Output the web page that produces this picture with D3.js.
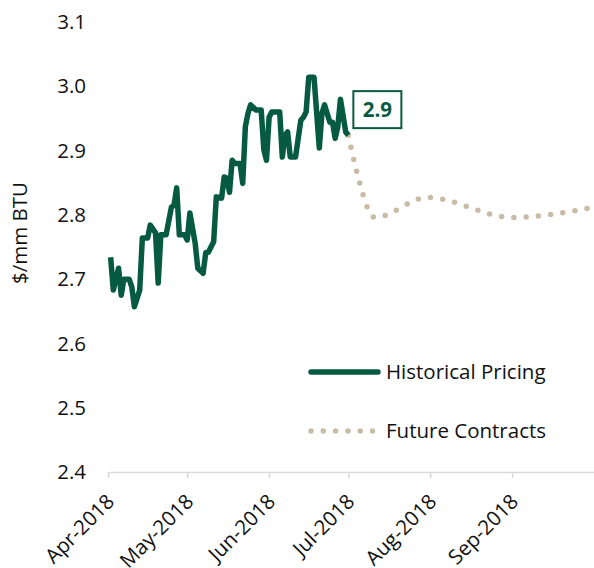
<!DOCTYPE html>
<html>
<head>
<meta charset="utf-8">
<script src="https://cdn.jsdelivr.net/npm/d3@7"></script>
<style>
  body { margin: 0; background: #fff; }
  text { font-family: "Open Sans", "Liberation Sans", sans-serif; }
</style>
</head>
<body>
<div id="chart"></div>
<script>
var width = 594, height = 568;

// historical daily prices ($/mm BTU)
var histDates = ["2018-04-02","2018-04-03","2018-04-05","2018-04-06","2018-04-07","2018-04-09","2018-04-10","2018-04-11",
  "2018-04-13","2018-04-14","2018-04-16","2018-04-17","2018-04-19","2018-04-20","2018-04-21","2018-04-23","2018-04-25",
  "2018-04-26","2018-04-27","2018-04-28","2018-04-30","2018-05-01","2018-05-02","2018-05-04","2018-05-05","2018-05-07",
  "2018-05-08","2018-05-09","2018-05-11","2018-05-12","2018-05-14","2018-05-15","2018-05-16","2018-05-17","2018-05-18",
  "2018-05-19","2018-05-21","2018-05-22","2018-05-23","2018-05-24","2018-05-25","2018-05-27","2018-05-29","2018-05-30",
  "2018-05-31","2018-06-01","2018-06-02","2018-06-05","2018-06-06","2018-06-07","2018-06-08","2018-06-09","2018-06-11",
  "2018-06-13","2018-06-14","2018-06-15","2018-06-16","2018-06-18","2018-06-20","2018-06-21","2018-06-22","2018-06-24",
  "2018-06-25","2018-06-26","2018-06-27","2018-06-28","2018-06-30","2018-07-01"];
var histValues = [2.734,2.683,2.717,2.675,2.700,2.700,2.688,2.657,
  2.683,2.764,2.764,2.784,2.772,2.694,2.769,2.769,2.812,
  2.815,2.842,2.769,2.769,2.761,2.803,2.756,2.717,2.709,
  2.741,2.742,2.758,2.828,2.826,2.859,2.857,2.835,2.885,
  2.880,2.880,2.849,2.937,2.958,2.971,2.963,2.963,2.901,
  2.885,2.952,2.960,2.960,2.890,2.924,2.929,2.890,2.890,
  2.947,2.952,2.960,3.014,3.014,2.904,2.958,2.971,2.944,
  2.944,2.919,2.937,2.980,2.929,2.924];

// future contract curve
var futDates = ["2018-07-01","2018-07-04","2018-07-11","2018-07-31","2018-09-01","2018-10-02"];
var futValues = [2.924,2.870,2.796,2.827,2.796,2.812];

var yTicks = [2.4, 2.5, 2.6, 2.7, 2.8, 2.9, 3.0, 3.1];
var monthTicks = ["2018-04-01","2018-05-01","2018-06-01","2018-07-01","2018-08-01","2018-09-01"];
var lastLabel = "2.9";

var green = "#065a40", tan = "#c9bca7", ink = "#111";
var fs = 20.5;
var parse = d3.timeParse("%Y-%m-%d");

var hist = histDates.map(function (d, i) { return {date: parse(d), value: histValues[i]}; });
var fut = futDates.map(function (d, i) { return {date: parse(d), value: futValues[i]}; });

var x = d3.scaleTime().domain([parse("2018-04-01"), parse("2018-10-02")]).range([108, 594]);
var y = d3.scaleLinear().domain([2.4, 3.1]).range([472, 22]);

var svg = d3.select("#chart").append("svg")
  .attr("width", width).attr("height", height);

// y labels
svg.append("g").selectAll("text").data(yTicks).enter().append("text")
  .attr("x", 86).attr("y", function (d) { return y(d); })
  .attr("dy", "0.35em").attr("text-anchor", "end")
  .attr("font-size", fs).attr("fill", ink)
  .text(function (d) { return d.toFixed(1); });

svg.append("text")
  .attr("transform", "translate(27,233) rotate(-90)")
  .attr("text-anchor", "middle").attr("font-size", fs).attr("fill", ink)
  .text("$/mm BTU");

// x axis
var xAxis = d3.axisBottom(x)
  .tickValues(monthTicks.map(parse))
  .tickSize(6).tickSizeOuter(0)
  .tickFormat(d3.timeFormat("%b-%Y"));
var gx = svg.append("g").attr("transform", "translate(0,472)").call(xAxis);
gx.select(".domain").attr("stroke", "#d9d9d9").attr("stroke-width", 1.5);
gx.selectAll(".tick line").attr("stroke", "#d9d9d9").attr("stroke-width", 1.5);
gx.selectAll(".tick text")
  .attr("font-size", fs).attr("fill", ink)
  .attr("font-family", "'Open Sans', sans-serif")
  .attr("text-anchor", "end")
  .attr("dy", 0).attr("y", 0)
  .attr("transform", "translate(7,31) rotate(-45)");

// lines
var line = d3.line().x(function (d) { return x(d.date); }).y(function (d) { return y(d.value); });

svg.append("path").datum(fut)
  .attr("d", line.curve(d3.curveMonotoneX))
  .attr("fill", "none").attr("stroke", tan)
  .attr("stroke-width", 5.5).attr("stroke-linecap", "round")
  .attr("stroke-dasharray", "0 12.3");

svg.append("path").datum(hist)
  .attr("d", line.curve(d3.curveLinear))
  .attr("fill", "none").attr("stroke", green)
  .attr("stroke-width", 5.5).attr("stroke-linejoin", "round");

// last value label
var last = hist[hist.length - 1];
var lx = x(last.date) + 5, ly = y(last.value) - 44;
svg.append("rect").attr("x", lx).attr("y", ly).attr("width", 48).attr("height", 37)
  .attr("fill", "#fff").attr("stroke", green).attr("stroke-width", 2);
svg.append("text").attr("x", lx + 24).attr("y", ly + 19).attr("dy", "0.35em")
  .attr("text-anchor", "middle").attr("font-size", fs).attr("font-weight", "bold")
  .attr("fill", green).text(lastLabel);

// legend
var legend = svg.append("g");
legend.append("line").attr("x1", 311).attr("x2", 378).attr("y1", 372).attr("y2", 372)
  .attr("stroke", green).attr("stroke-width", 5.5).attr("stroke-linecap", "round");
legend.append("text").attr("x", 386).attr("y", 372).attr("dy", "0.35em")
  .attr("font-size", fs).attr("fill", ink).text("Historical Pricing");
legend.append("line").attr("x1", 311).attr("x2", 373).attr("y1", 431).attr("y2", 431)
  .attr("stroke", tan).attr("stroke-width", 5.5).attr("stroke-linecap", "round")
  .attr("stroke-dasharray", "0 12.3");
legend.append("text").attr("x", 386).attr("y", 431).attr("dy", "0.35em")
  .attr("font-size", fs).attr("fill", ink).text("Future Contracts");
</script>
</body>
</html>
